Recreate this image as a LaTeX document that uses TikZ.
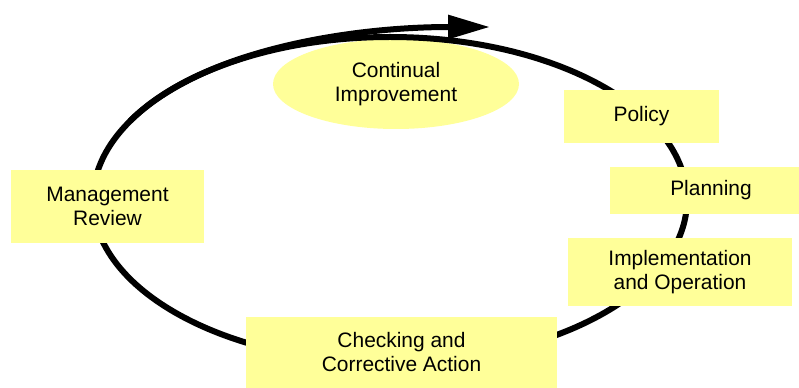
\documentclass[tikz,border=0pt]{standalone}
\usepackage{fontspec}
\setmainfont{Liberation Sans}
\usetikzlibrary{shapes.geometric,arrows.meta}
\definecolor{boxyellow}{HTML}{FFFF99}
\begin{document}
\begin{tikzpicture}[x=0.75pt,y=-0.75pt,
  every node/.style={font=\fontsize{15.7}{18}\selectfont, text=black, align=center, inner sep=0pt, outer sep=0pt},
  ybox/.style={fill=boxyellow, draw=none, rectangle},
  yell/.style={fill=boxyellow, draw=none, ellipse},
  cycleline/.style={line width=4.5pt, draw=black}
]
\useasboundingbox (0,0) rectangle (799,388);
% continual improvement ellipse
\node[yell, minimum width=184.5pt, minimum height=67.5pt] (ci) at (396,84) {Continual\\Improvement};
% cycle
\draw[cycleline] (390,200) ellipse [x radius=222.75pt, y radius=122.25pt];
\coordinate (arrS) at (130,121);
\coordinate (arrE) at (490,27);
\draw[cycleline, -{Triangle[length=31.5pt,width=17.25pt]}] (arrS) .. controls (200.7,50.3) and (350,27) .. (arrE);
% boxes
\node[ybox, minimum width=116.25pt, minimum height=39.75pt] (pol) at (641.5,116.5) {Policy};
\node[ybox, minimum width=141.75pt, minimum height=35.25pt] (pla) at (704.5,190.5) {\hspace*{9.75pt}Planning};
\node[ybox, minimum width=168pt, minimum height=51pt] (imp) at (680,272) {Implementation\\and Operation};
\node[ybox, minimum width=144.75pt, minimum height=54.75pt] (mr) at (107.5,206.5) {Management\\Review};
\node[ybox, minimum width=233.25pt, minimum height=53.25pt] (chk) at (401.5,352.5) {Checking and\\Corrective Action};
\end{tikzpicture}
\end{document}
